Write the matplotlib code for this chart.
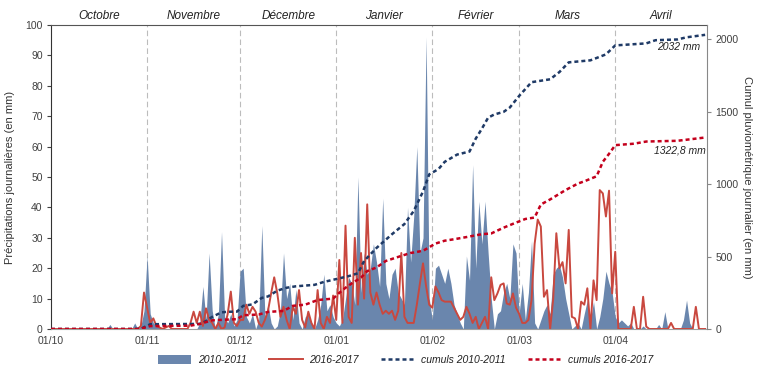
import numpy as np
import matplotlib
matplotlib.use('Agg')
import matplotlib.pyplot as plt
import matplotlib.transforms as mtransforms
from matplotlib.patches import Patch
from matplotlib.lines import Line2D

plt.rcParams['font.family'] = ['Liberation Sans', 'DejaVu Sans']

# pluies journalieres 2010-2011 (mm), jour 0 = 1er octobre
oct_1011 = [0, 0, 0, 0, 0, 0, 0, 0, 0, 0, 0, 0, 0, 0, 0, 0, 0, 0, 0, 1.5,
            0, 0, 0, 0, 0, 0, 0, 2, 0, 1, 6]
nov_1011 = [24, 5, 2, 1, 0.5, 0, 0, 0, 0, 0, 0, 0, 0, 0, 0, 0, 0, 2, 14, 3,
            25, 6, 0, 5, 32, 4, 2, 5, 1, 3]
dec_1011 = [19, 20, 4, 2, 5, 0, 3, 34, 4, 8, 2, 0, 1, 6, 25, 10, 15, 3, 13, 2,
            0, 4, 5, 2, 0, 3, 8, 18, 6, 8, 4]
jan_1011 = [2, 1, 3, 10, 17, 15, 8, 50, 12, 25, 18, 20, 28, 22, 14, 43, 15, 10, 18, 20,
            12, 10, 8, 40, 22, 37, 60, 25, 30, 96, 10]
feb_1011 = [3, 20, 21, 18, 15, 20, 15, 8, 5, 2, 0, 24, 16, 54, 20, 42, 28, 42, 25, 10,
            0, 5, 6, 12, 15, 10, 28, 25]
mar_1011 = [5, 15, 3, 12, 29, 2, 0, 3, 6, 8, 5, 18, 20, 21, 17, 10, 5, 0, 1, 2,
            0, 5, 9.5, 3, 9, 0, 4, 10, 19, 15, 12]
apr_1011 = [4, 2, 3, 2, 1, 2, 0, 0, 0, 1, 0, 0, 0, 0, 1.5, 0, 5.7, 0, 0, 0,
            0, 0, 3, 9.5, 2, 0, 0, 0, 0, 0]

# pluies journalieres 2016-2017 (mm)
oct_1617 = [0, 0, 0, 0, 0, 0, 0, 0, 0, 0, 0, 0, 0, 0, 0, 0, 0, 0, 0, 0,
            0, 0, 0, 0, 0, 0, 0, 0, 0, 1, 12]
nov_1617 = [7, 2, 3.5, 1, 0.5, 0, 0.5, 1, 0, 0, 0, 0, 0, 0, 2, 5.7, 2, 5.7, 1, 6.8,
            3, 2, 0, 2, 0, 0.5, 5, 12.3, 2, 1]
dec_1617 = [3, 3, 8, 5, 7.3, 5.7, 2, 0.8, 3, 6, 11.7, 17, 11.7, 4, 7.3, 3, 0, 7.3, 5, 12.8,
            3, 0.5, 5.7, 2, 0, 12.8, 2, 0, 4, 2, 11]
jan_1617 = [3, 22.7, 2, 34, 4, 2, 30, 8, 25, 10, 41, 12, 8, 12, 8, 5, 6, 5, 6, 3,
            6, 25, 4, 2, 2, 2, 8, 15, 21.6, 14, 8]
feb_1617 = [7, 14, 12, 9.5, 9, 9, 9, 7, 5, 3, 4, 7.3, 5, 2, 4, 0, 2, 4, 0, 17,
            9.5, 11.7, 14.5, 15, 8.4, 8, 11.7, 7]
mar_1617 = [5, 2, 2, 3, 9.5, 28, 36, 33.7, 10.6, 12.8, 0, 10, 31.5, 20, 22, 15, 32.6, 4, 3.5, 0,
            9, 8, 13.4, 0, 16, 9.5, 45.7, 44.6, 37, 45.5, 11.7]
apr_1617 = [25.4, 0, 0, 0, 0, 0, 7.3, 0, 0, 10.6, 0.8, 0, 0, 0, 0, 0, 0, 0, 2, 0,
            0, 0, 0, 0, 0, 0, 7.3, 0, 0, 0]

# cumuls (jour, mm)
jours_cum_1011 = [0, 27, 29, 30, 32, 48, 50, 52, 55, 57, 60, 62, 65, 68, 70, 73, 76, 79, 85, 88,
                  92, 96, 99, 101, 105, 110, 114, 117, 120, 122, 125, 127, 131, 135, 137, 139,
                  141, 143, 146, 148, 151, 155, 161, 164, 167, 174, 179, 182, 192, 195, 202, 205, 211]
cum_1011 = [0, 0, 3, 12, 33, 35, 55, 84, 115, 119, 120, 160, 170, 215, 225, 265, 285, 295, 305, 325,
            345, 365, 385, 470, 560, 655, 725, 815, 950, 1068, 1105, 1155, 1205, 1226, 1315, 1384,
            1460, 1482, 1500, 1530, 1610, 1705, 1725, 1775, 1842, 1856, 1897, 1959, 1973, 1995, 2000, 2015, 2032]

jours_cum_1617 = [0, 29, 30, 32, 45, 48, 52, 57, 60, 62, 67, 70, 75, 78, 82, 86, 91, 93, 95, 97,
                  100, 102, 105, 108, 113, 116, 120, 122, 124, 127, 130, 134, 139, 142, 146, 150,
                  153, 156, 158, 161, 166, 170, 172, 176, 178, 180, 182, 188, 192, 202, 206, 211]
cum_1617 = [0, 0, 8, 20, 23, 35, 60, 65, 68, 95, 100, 118, 125, 160, 168, 200, 210, 250, 285, 315,
            355, 400, 425, 470, 505, 525, 540, 565, 590, 610, 620, 635, 655, 660, 700, 735,
            760, 770, 860, 895, 960, 1005, 1020, 1055, 1155, 1210, 1270, 1280, 1295, 1300, 1310, 1322.8]

mois = ['Octobre', 'Novembre', 'Décembre', 'Janvier', 'Février', 'Mars', 'Avril']
debut_mois = [0, 31, 61, 92, 123, 151, 182, 212]
etiquettes_x = ['01/10', '01/11', '01/12', '01/01', '01/02', '01/03', '01/04']

bleu = '#6a86ad'
rouge = '#c9483f'
bleu_fonce = '#1f3a66'
rouge_fonce = '#c4001c'
gris = '#404040'

pluie_1011 = np.concatenate([oct_1011, nov_1011, dec_1011, jan_1011, feb_1011, mar_1011, apr_1011])
pluie_1617 = np.concatenate([oct_1617, nov_1617, dec_1617, jan_1617, feb_1617, mar_1617, apr_1617])
jours = np.arange(len(pluie_1011))

fig = plt.figure(figsize=(7.58, 3.69), dpi=100)
ax = fig.add_axes([51/758, 1 - 329/369, (707 - 51)/758, (329 - 25)/369])

ax.fill_between(jours, pluie_1011, 0, color=bleu, lw=0, zorder=2)
ax.plot(jours, pluie_1617, color=rouge, lw=1.4, zorder=3)

for d in debut_mois[1:-1]:
    ax.axvline(d, color='#bcbcbc', lw=0.8, ls=(0, (5, 3)), zorder=1)

ax.set_xlim(0, 211.6)
ax.set_ylim(0, 100)
ax.set_xticks(debut_mois[:-1])
ax.set_xticklabels(etiquettes_x)
ax.tick_params(axis='x', length=0, pad=5, labelsize=7.5, colors=gris)
ax.set_yticks(range(0, 101, 10))
ax.tick_params(axis='y', length=3, width=0.8, labelsize=7.5, colors=gris, pad=3)
ax.set_ylabel('Précipitations journalières (en mm)', fontsize=8, color='#333333')
ax.yaxis.set_label_coords(-36/656, 0.5)

ax.spines['left'].set_color('#333333')
ax.spines['top'].set_color('#555555')
ax.spines['bottom'].set_color('#a0a0a0')
ax.spines['right'].set_visible(False)

# noms des mois au dessus
trans = mtransforms.blended_transform_factory(ax.transData, ax.transAxes)
for i, m in enumerate(mois):
    fin = min(debut_mois[i + 1], 211.6)
    ax.text((debut_mois[i] + fin) / 2, 1.03, m, transform=trans, ha='center', va='center',
            style='italic', fontsize=8.5, color='#222222')

# cumuls sur l'axe de droite
ax2 = ax.twinx()
ax2.plot(jours_cum_1011, cum_1011, color=bleu_fonce, lw=1.8, dashes=(1.6, 1.2), zorder=4)
ax2.plot(jours_cum_1617, cum_1617, color=rouge_fonce, lw=1.8, dashes=(1.6, 1.2), zorder=4)
ax2.set_ylim(0, 2100)
ax2.set_yticks([0, 500, 1000, 1500, 2000])
ax2.tick_params(axis='y', length=3, width=0.8, labelsize=7.5, colors=gris, pad=3)
ax2.tick_params(axis='y', color='#888888')
ax2.set_ylabel('Cumul pluviométrique journalier (en mm)', fontsize=8, color='#333333', rotation=270)
ax2.yaxis.set_label_coords(1 + 45/656, 0.5)
for s in ['left', 'top', 'bottom']:
    ax2.spines[s].set_visible(False)
ax2.spines['right'].set_color('#888888')

ax2.text(209.5, 1945, '2032 mm', ha='right', va='center', style='italic', fontsize=7.5, color='#222222')
ax2.text(211.3, 1236, '1322,8 mm', ha='right', va='center', style='italic', fontsize=7.5, color='#222222')

poignees = [Patch(facecolor=bleu, edgecolor='none'),
            Line2D([], [], color=rouge, lw=1.4),
            Line2D([], [], color=bleu_fonce, lw=1.8, dashes=(1.6, 1.2)),
            Line2D([], [], color=rouge_fonce, lw=1.8, dashes=(1.6, 1.2))]
noms = ['2010-2011', '2016-2017', 'cumuls 2010-2011', 'cumuls 2016-2017']
leg = fig.legend(poignees, noms, loc='center', bbox_to_anchor=(0.535, 0.025), ncol=4, frameon=False,
                 prop={'style': 'italic', 'size': 7.5}, handlelength=3.2, handleheight=1.0,
                 columnspacing=2.2, handletextpad=0.6)
for t in leg.get_texts():
    t.set_color('#222222')

fig.savefig('out.png', dpi=100)
